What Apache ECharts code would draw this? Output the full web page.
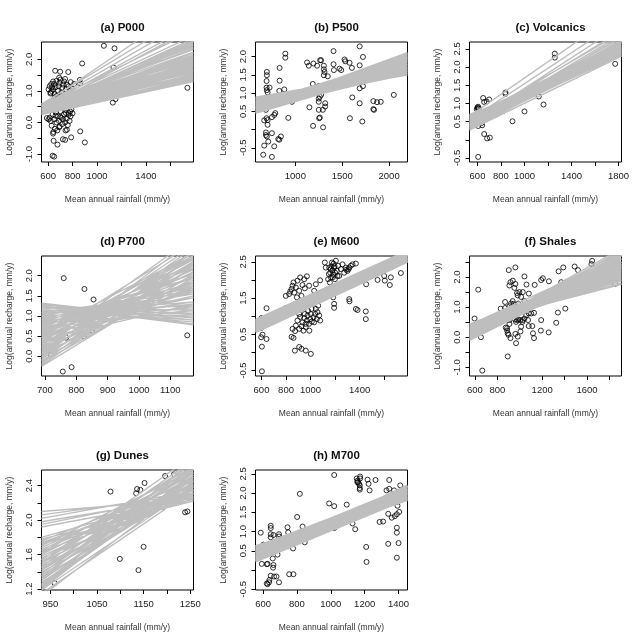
<!DOCTYPE html>
<html><head><meta charset="utf-8">
<script src="https://cdn.jsdelivr.net/npm/echarts@6/dist/echarts.min.js"></script>
<style>html,body{margin:0;padding:0;background:#fff}#c{width:642px;height:642px}</style>
</head><body><div id="c"></div>
<script>
const titles = ['(a) P000','(b) P500','(c) Volcanics','(d) P700','(e) M600','(f) Shales','(g) Dunes','(h) M700'];
const xAxisTitle = 'Mean annual rainfall (mm/y)';
const yAxisTitle = 'Log(annual recharge, mm/y)';

// ---- scatter points [rainfall, log recharge] ----
const pointsP000 = [[1056,2.43],[1143,2.35],[1135,1.74],[1151,0.74],[1129,0.63],[1740,1.1],[878,1.87],[859,1.35],[862,1.24],[764,1.6],[698,1.61],[657,1.64],[813,1.22],[799,0.29],[766,0.24],[862,-0.28],[900,-0.63],[788,-0.47],[676,-0.7],[644,-0.58],[720,-0.53],[739,-0.55],[636,-1.05],[649,-1.08],[742,-0.25],[753,-0.23],[589,0.14],
[640,1.05],[648,1.22],[655,0.9],[660,1.12],[668,1.32],[672,0.85],[680,1.0],[686,1.15],[692,1.26],[700,1.36],[708,0.95],[715,1.1],[722,1.2],[730,1.3],[738,1.38],[745,1.05],[752,1.2],[760,0.9],[768,1.15],[776,1.02],[784,1.28],[790,1.08],[620,0.95],[632,1.12],[640,1.3],[652,0.8],[664,0.78],[705,0.86],[628,1.0],[690,1.42],[603,1.05],[612,1.15],[618,0.92],[625,1.22],
[612,0.15],[620,0.05],[628,-0.1],[636,0.25],[642,-0.3],[648,0.1],[655,-0.2],[662,0.32],[668,0.0],[674,-0.25],[680,0.2],[688,0.05],[694,-0.12],[700,0.36],[708,0.15],[715,-0.05],[722,0.1],[730,0.26],[738,0.0],[745,0.4],[752,0.12],[760,-0.08],[768,0.3],[775,0.05],[783,0.2],[790,0.42],[603,0.1],[745,0.3],[700,0.18],[660,0.22],[780,0.35],[640,-0.35],[690,-0.15]];
const pointsP500 = [[1686,2.28],[1721,1.99],[1407,2.15],[893,2.08],[893,1.97],[832,1.69],[696,1.58],[696,1.49],[693,1.33],[693,1.15],[696,1.08],[704,1.02],[725,1.15],[832,1.34],[829,1.06],[882,1.1],[964,0.76],[1125,1.84],[1143,1.75],[1193,1.81],[1232,1.75],[1264,1.9],[1275,1.9],[1304,1.75],[1304,1.65],[1311,1.58],[1304,1.49],[1346,1.46],[1407,1.79],[1411,1.63],[1471,1.67],[1525,1.92],[1532,1.87],[1578,1.83],[1603,1.69],[1489,1.63],[1186,1.25],[1250,1.19],[1250,0.85],[1250,0.76],[1261,0.9],[1318,0.72],[1318,0.63],[1275,0.95],[1150,0.61],[1250,0.54],[1293,0.54],[1261,0.33],[1254,0.31],[1189,0.1],[1296,0.06],[1607,0.88],[1582,0.31],[1686,0.72],[1714,0.22],[1721,1.19],[1686,1.13],[1686,1.76],[1832,0.78],[1832,0.56],[1839,0.54],[1871,0.75],[1911,0.76],[2050,0.95],[925,0.32],[775,0.4],[786,0.45],[750,0.34],[668,0.25],[704,0.26],[693,0.31],[704,0.13],[686,-0.08],[696,-0.19],[686,-0.15],[750,-0.1],[711,-0.33],[668,-0.44],[775,-0.46],[829,-0.28],[846,-0.19],[818,-0.26],[657,-0.69],[750,-0.75],[686,0.54]];
const pointsVolcanics = [[600,0.89],[606,0.91],[611,0.86],[594,0.84],[603,0.87],[648,1.15],[657,1.04],[679,1.05],[699,1.11],[838,1.3],[838,1.26],[898,0.51],[1000,0.78],[1122,1.19],[1162,0.97],[1258,2.37],[1258,2.26],[1772,2.09],[606,0.38],[640,0.4],[634,0.46],[657,0.16],[682,0.04],[705,0.06],[606,-0.47]];
const pointsP700 = [[760,1.94],[826,1.67],[855,1.41],[719,0.04],[757,-0.38],[785,-0.27],[824,0.5],[850,0.64],[981,1.11],[1154,0.52],[768,0.46]];
const pointsM600 = [[603,-0.52],[603,0.16],[597,0.42],[608,0.49],[595,0.67],[600,0.95],[641,0.37],[641,1.22],[798,1.22],
[845,0.43],[861,0.4],[872,0.05],[907,0.15],[926,0.1],[961,0.05],[1002,-0.04],
[853,0.65],[874,0.59],[880,0.74],[893,0.88],[907,0.65],[926,0.72],[934,0.83],[942,0.6],[948,0.95],[953,1.06],[961,0.79],[970,0.88],[975,1.02],[980,1.15],[988,0.79],[997,0.92],[1002,1.06],[1008,1.2],[1016,1.34],[1024,0.97],[1029,0.83],[1037,1.06],[1043,1.2],[1051,0.92],[1056,1.11],[1062,1.29],[1070,1.02],[1078,0.88],[942,1.38],[926,1.24],[907,1.06],[893,1.2],[915,0.98],[960,0.7],[990,0.6],[1010,0.85],
[798,1.56],[825,1.61],[845,1.75],[861,1.93],[880,1.79],[893,1.98],[915,2.07],[934,1.86],[948,2.02],[970,2.1],[866,1.65],[907,1.7],[926,1.56],[953,1.77],[988,1.84],[853,1.84],[834,1.68],[888,1.52],[1029,1.7],[1078,1.99],[1043,1.88],
[1152,2.34],[1160,2.2],[1165,2.07],[1171,2.38],[1179,2.26],[1184,2.14],[1192,2.34],[1198,2.02],[1206,2.53],[1214,2.25],[1225,2.39],[1233,2.11],[1247,2.3],[1260,2.43],[1274,2.2],[1287,2.34],[1301,2.25],[1315,2.34],[1328,2.39],[1342,2.43],[1143,2.02],[1157,1.93],[1149,2.16],[1174,2.48],[1187,2.45],[1200,2.2],[1219,2.11],[1165,2.3],[1181,2.07],[1195,2.38],[1369,2.45],[1116,2.48],[1124,2.34],[1290,2.28],[1310,2.3],
[1152,1.56],[1184,1.52],[1192,1.34],[1192,1.23],[1315,1.47],[1317,1.41],[1369,1.2],[1383,1.17],[1450,1.13],[1450,0.92],
[1453,1.88],[1410,2.11],[1423,2.02],[1546,2.0],[1600,2.3],[1600,2.11],[1605,1.98],[1646,1.86],[1654,2.07],[1660,2.36],[1654,2.42],[1736,2.19],[1513,2.25]];
const pointsShales = [[597,0.62],[630,1.58],[654,0.0],[666,-1.11],[893,-0.64],[902,2.23],[961,2.32],
[908,1.72],[917,1.83],[938,1.88],[961,1.77],[952,1.64],[976,1.47],[982,1.39],[997,1.5],[1012,1.34],[1027,1.5],[1042,2.02],[1060,1.75],[1081,1.45],[1102,1.03],[1133,1.74],[1191,1.9],[1206,1.96],[1191,0.57],[1188,0.22],[1127,-0.03],[1118,0.13],[1112,0.37],[1080,0.37],[1074,0.57],[1080,0.79],[1057,0.73],[1042,0.62],[1027,0.57],[1024,0.51],[1006,0.57],[988,0.59],[976,0.57],[967,0.51],[958,0.59],[952,0.79],[946,1.1],[937,1.2],[922,1.12],[908,1.03],[917,0.9],[908,0.57],[908,0.44],[887,0.3],[893,0.13],[899,0.08],[887,0.22],[917,-0.03],[961,0.11],[982,0.02],[1006,0.19],[967,-0.2],[1012,0.35],[875,0.32],[869,0.97],[869,1.17],[830,0.95],[857,0.79],[946,1.0],[988,1.12],[1042,1.2],[1080,1.12],[1102,0.79],[1127,0.81],[1048,0.9],
[1260,1.86],[1340,0.82],[1325,0.48],[1258,0.16],[1406,0.95],[1346,2.19],[1388,2.32],[1370,1.83],[1489,2.35],[1519,2.23],[1645,2.54],[1639,2.43],[1849,1.77]];
const pointsDunes = [[959,1.27],[1079,2.33],[1099,1.55],[1134,2.31],[1136,2.36],[1143,2.35],[1150,1.69],[1139,1.42],[1152,2.43],[1196,2.51],[1239,2.09],[1244,2.1],[1215,2.53]];
const pointsM700 = [[586,0.97],[592,0.16],[622,0.15],[626,0.16],[635,-0.32],[626,-0.37],[622,-0.35],[637,-0.26],[645,-0.15],[665,-0.17],[679,-0.17],[694,-0.32],[661,0.13],[659,0.06],[657,0.3],[645,1.15],[645,1.09],[645,0.93],[645,0.85],[661,0.91],[694,0.93],[694,0.87],[685,0.4],[744,1.11],[748,0.98],[754,-0.11],[779,-0.11],[777,0.56],[801,1.38],[817,1.98],[833,1.13],[846,0.72],[602,0.66],
[990,1.73],[1020,1.66],[1020,2.47],[1094,1.7],[1020,1.09],[960,1.04],[1128,1.21],[1144,1.06],
[1153,2.38],[1157,2.32],[1161,2.28],[1167,2.24],[1171,2.2],[1171,2.13],[1171,2.09],[1173,2.43],[1173,2.38],[1157,2.28],
[1217,2.35],[1223,2.24],[1229,2.07],[1264,2.34],[1209,0.6],[1211,0.21],
[1288,1.25],[1309,1.26],[1329,2.07],[1345,2.34],[1345,2.11],[1339,1.46],[1339,0.68],[1360,1.36],[1378,1.4],[1390,1.45],[1394,1.67],[1390,1.77],[1390,1.1],[1390,0.97],[1390,0.32],[1400,0.7],[1404,1.51],[1410,2.2],[1423,1.96],[1374,2.07]];

// ---- fitted regression lines: [value at left edge, value at right edge] ----
const linesP000 = [[0.25,1.3],[0.27,1.37],[0.29,1.41],[0.31,1.49],[0.33,1.54],[0.35,1.61],[0.37,1.65],[0.39,1.73],[0.41,1.77],[0.43,1.85],[0.45,1.9],[0.47,1.97],[0.49,2.01],[0.51,2.09],[0.53,2.14],[0.55,2.23],[0.57,2.31],[0.59,2.4],
[0.26,1.62],[0.3,1.52],[0.34,1.7],[0.38,1.45],[0.42,1.81],[0.46,1.58],[0.5,1.88],[0.54,1.68],[0.58,1.98],[0.28,1.4],[0.32,1.75],[0.36,1.5],[0.4,1.92],[0.44,1.65],[0.48,2.05],[0.52,1.78],[0.56,2.12],[0.6,1.85],
[0.35,2.45],[0.4,2.55],[0.45,2.66],[0.5,2.75],[0.55,2.9],[0.42,3.0],[0.48,3.1],[0.52,3.3],[0.58,3.5],[0.38,2.5],[0.46,2.6],[0.54,3.8],
[0.3,1.33],[0.35,1.38],[0.4,1.44],[0.33,1.8],[0.45,2.2],[0.5,2.35],[0.38,2.1],[0.27,1.95]];
const linesP500 = [[0.45,1.68],[0.46,1.9],[0.48,2.08],[0.5,1.62],[0.51,1.8],[0.53,1.98],[0.55,1.56],[0.56,1.75],[0.57,2.0],[0.58,2.1],[0.6,1.62],[0.61,1.85],[0.62,1.95],[0.64,1.52],[0.65,1.7],[0.66,1.88],[0.68,2.02],[0.7,1.55],[0.71,1.66],[0.72,1.8],[0.74,1.93],[0.75,1.53],[0.76,1.62],[0.78,1.76],[0.8,1.5],[0.81,1.6],[0.83,1.7],[0.85,1.52],[0.86,1.62],[0.88,1.6],[0.52,1.7],[0.59,1.72],[0.67,1.6],[0.73,1.7],[0.63,1.78],[0.49,1.86],[0.69,1.75],[0.79,1.66],[0.54,1.9],[0.6,2.05]];
const linesVolcanics = [[0.27,2.3],[0.29,2.45],[0.3,2.6],[0.32,2.38],[0.33,2.52],[0.35,2.7],[0.36,2.42],[0.38,2.58],[0.39,2.33],[0.41,2.75],[0.42,2.48],[0.44,2.62],[0.45,2.36],[0.47,2.55],[0.48,2.8],[0.5,2.44],[0.51,2.66],[0.52,2.32],[0.54,2.5],[0.55,2.72],[0.57,2.4],[0.58,2.6],[0.6,2.34],[0.61,2.52],[0.63,2.45],[0.64,2.68],[0.66,2.38],[0.68,2.5],[0.7,2.3],[0.4,2.9],[0.46,3.0],[0.53,2.95],[0.34,2.85],[0.43,3.15],[0.65,3.55],[0.55,3.3],[0.59,2.42],[0.37,2.5],[0.49,2.35],[0.62,2.62]];
const linesP700 = [[-0.25,2.05],[-0.22,2.35],[-0.18,2.6],[-0.15,1.95],[-0.12,2.2],[-0.08,2.5],[-0.05,1.85],[-0.02,2.3],[0.0,2.7],[0.03,2.0],[0.06,2.45],[0.08,1.75],[0.1,2.2],[0.12,2.6],[0.15,1.9],[0.17,2.35],[0.2,2.75],[0.22,1.7],[0.24,2.1],[0.27,2.5],[0.3,1.85],[0.32,2.25],[0.35,2.6],[0.37,1.65],[0.4,2.0],[0.42,2.4],[0.45,1.8],[0.47,2.15],[0.5,2.5],[0.52,1.6],[0.55,1.95],[0.57,2.3],[0.6,1.7],[0.62,2.05],[0.65,1.5],[0.67,1.85],[0.7,2.2],[0.72,1.45],[0.75,1.75],[0.77,2.05],[0.8,1.35],[0.82,1.65],[0.85,1.95],[0.87,1.3],[0.9,1.55],[0.92,1.8],[0.95,1.2],[0.97,1.45],[1.0,1.7],[1.02,1.1],[1.05,1.35],[1.08,1.6],[1.1,1.0],[1.12,1.25],[1.15,0.9],[1.18,1.15],[1.2,0.85],[1.23,1.05],[1.26,0.78],[1.28,0.95],[1.3,0.8],[1.32,0.9],[0.05,2.9],[0.25,2.95],[0.45,2.8],[0.6,2.55],[0.4,1.3],[0.55,1.25],[0.7,1.15],[0.85,1.05]];
const linesM600 = [[0.56,2.5],[0.58,2.56],[0.59,2.62],[0.61,2.52],[0.62,2.58],[0.64,2.66],[0.65,2.54],[0.67,2.6],[0.68,2.7],[0.7,2.56],[0.71,2.64],[0.73,2.72],[0.74,2.58],[0.76,2.66],[0.77,2.76],[0.79,2.62],[0.8,2.7],[0.82,2.78],[0.83,2.64],[0.85,2.72],[0.86,2.8],[0.88,2.68],[0.9,2.8],[0.6,2.7],[0.72,2.5],[0.87,2.6],[0.66,2.74],[0.78,2.54]];
const linesShales = [[-0.1,2.4],[-0.08,2.65],[-0.06,2.9],[-0.04,2.3],[-0.02,2.55],[0.0,2.8],[0.02,2.25],[0.04,2.45],[0.06,2.7],[0.08,2.15],[0.1,2.38],[0.12,2.6],[0.14,2.85],[0.16,2.05],[0.18,2.3],[0.2,2.5],[0.22,2.75],[0.24,1.95],[0.26,2.2],[0.28,2.42],[0.3,2.65],[0.32,1.88],[0.34,2.1],[0.36,2.32],[0.38,2.55],[0.4,1.8],[0.42,2.0],[0.44,2.25],[0.45,1.76],[0.43,2.45],[0.35,1.9],[0.25,2.6],[0.15,2.5],[0.05,2.35],[-0.05,2.5],[0.0,2.6],[0.3,2.0],[0.2,2.1],[0.1,2.2],[0.38,2.2],[0.27,2.3],[0.12,2.95],[0.41,2.7]];
const linesDunes = [[1.19,2.38],[1.2,2.55],[1.22,2.7],[1.24,2.45],[1.26,2.62],[1.28,2.4],[1.3,2.52],[1.32,2.68],[1.34,2.36],[1.36,2.48],[1.38,2.6],[1.4,2.32],[1.42,2.44],[1.44,2.56],[1.46,2.7],[1.48,2.3],[1.5,2.42],[1.52,2.54],[1.54,2.65],[1.56,2.28],[1.58,2.4],[1.6,2.5],[1.62,2.62],[1.64,2.26],[1.66,2.36],[1.68,2.48],[1.7,2.58],[1.72,2.24],[1.74,2.34],[1.76,2.45],[1.78,2.22],[1.8,2.3],[1.25,2.5],[1.35,2.58],[1.45,2.38],[1.55,2.46],[1.65,2.55],[1.32,2.44],[1.42,2.62],[1.52,2.34],[1.62,2.4],[1.72,2.4],[1.92,2.25],[1.95,2.3],[1.98,2.27],[2.02,2.34],[2.06,2.3],[2.1,2.24],[1.22,2.48],[1.5,2.75],[1.15,2.35],[1.12,2.45]];
const linesM700 = [[0.22,1.85],[0.24,1.95],[0.26,2.05],[0.28,1.9],[0.3,2.0],[0.32,2.1],[0.34,1.88],[0.36,1.98],[0.38,2.08],[0.4,2.18],[0.42,1.92],[0.44,2.02],[0.46,2.12],[0.48,1.86],[0.5,1.96],[0.52,2.06],[0.54,2.16],[0.56,1.9],[0.58,2.0],[0.6,2.1],[0.62,1.84],[0.45,1.82],[0.25,2.15],[0.35,2.2],[0.55,1.82],[0.6,1.95]];

// ---- axis ranges, ticks and tick labels ----
const xRanges = [[545,1790],[575,2196],[532,1826],[689,1174],[551,1790],[552,1907],[931,1257],[555,1453]];
const yRanges = [[-1.25,2.55],[-0.89,2.4],[-0.61,2.69],[-0.49,2.49],[-0.65,2.66],[-1.29,2.7],[1.19,2.58],[-0.52,2.6]];
const xTicks = [[600,800,1000,1200,1400,1600],[1000,1500,2000],[600,800,1000,1200,1400,1600,1800],[700,800,900,1000,1100],[600,800,1000,1200,1400,1600],[600,800,1000,1200,1400,1600,1800],[950,1000,1050,1100,1150,1200,1250],[600,800,1000,1200,1400]];
const xLabels = [[600,800,1000,1400],[1000,1500,2000],[600,800,1000,1400,1800],[700,800,900,1000,1100],[600,800,1000,1400],[600,800,1200,1600],[950,1050,1150,1250],[600,800,1000,1200,1400]];
const yTicks = [[-1,-0.5,0,0.5,1,1.5,2],[-0.5,0,0.5,1,1.5,2],[-0.5,0,0.5,1,1.5,2,2.5],[0,0.5,1,1.5,2],[-0.5,0,0.5,1,1.5,2,2.5],[-1,-0.5,0,0.5,1,1.5,2,2.5],[1.2,1.4,1.6,1.8,2.0,2.2,2.4],[-0.5,0,0.5,1,1.5,2,2.5]];
const yLabels = [[-1,0,1,2],[-0.5,0.5,1,1.5,2],[-0.5,0.5,1,1.5,2,2.5],[0,0.5,1,1.5,2],[-0.5,0.5,1.5,2.5],[-1,0,1,2],[1.2,1.6,2.0,2.4],[-0.5,0.5,1,1.5,2,2.5]];

const panelPoints = [pointsP000,pointsP500,pointsVolcanics,pointsP700,pointsM600,pointsShales,pointsDunes,pointsM700];
const panelLines = [linesP000,linesP500,linesVolcanics,linesP700,linesM600,linesShales,linesDunes,linesM700];
const lineWidths = [1.4,1.8,1.4,1.3,2.2,1.5,1.4,2.2];

const FONT = 'Liberation Sans, Arial, sans-serif';
const option = {animation:false, backgroundColor:'#fff', title:[], grid:[], xAxis:[], yAxis:[], series:[]};
titles.forEach((t,i)=>{
  const col=i%3, row=Math.floor(i/3);
  const left=41.5+214*col, top=42+214*row, w=152, h=120;
  option.grid.push({left:left, top:top, width:w, height:h, show:true, borderColor:'#000', borderWidth:1, backgroundColor:'transparent'});
  option.title.push({text:t, left:left+w/2, top:top-25, textAlign:'center',
    textStyle:{fontFamily:FONT, fontWeight:'bold', fontSize:11.5, color:'#111'}});
  option.xAxis.push({type:'value', gridIndex:i, position:'bottom', min:xRanges[i][0], max:xRanges[i][1],
    axisLine:{show:false, onZero:false}, splitLine:{show:false},
    axisTick:{show:true, inside:false, length:4, customValues:xTicks[i], lineStyle:{color:'#000', width:1}},
    axisLabel:{customValues:xLabels[i], margin:9, fontSize:9.5, color:'#222', fontFamily:FONT, formatter:v=>String(v)},
    name:xAxisTitle, nameLocation:'middle', nameGap:33,
    nameTextStyle:{fontSize:8.5, color:'#333', fontFamily:FONT}});
  option.yAxis.push({type:'value', gridIndex:i, position:'left', min:yRanges[i][0], max:yRanges[i][1],
    axisLine:{show:false, onZero:false}, splitLine:{show:false},
    axisTick:{show:true, inside:false, length:4, customValues:yTicks[i], lineStyle:{color:'#000', width:1}},
    axisLabel:{customValues:yLabels[i], rotate:90, margin:7, fontSize:9.5, color:'#222', fontFamily:FONT, formatter:v=>Number(v).toFixed(1)},
    name:yAxisTitle, nameLocation:'middle', nameGap:27, nameRotate:90,
    nameTextStyle:{fontSize:8.5, color:'#333', fontFamily:FONT}});
  option.series.push({type:'scatter', xAxisIndex:i, yAxisIndex:i, data:panelPoints[i], symbol:'circle', symbolSize:5,
    itemStyle:{color:'rgba(0,0,0,0)', borderColor:'#000', borderWidth:1}, z:2, silent:true});
  const d=[];
  panelLines[i].forEach(p=>{ d.push([xRanges[i][0], p[0]], [xRanges[i][1], p[1]], [xRanges[i][1], '-']); });
  option.series.push({type:'line', xAxisIndex:i, yAxisIndex:i, data:d, showSymbol:false, symbol:'none', connectNulls:false, clip:true,
    lineStyle:{color:'#bebebe', width:lineWidths[i]}, z:3, silent:true});
});
const chart = echarts.init(document.getElementById('c'), null, {renderer:'canvas'});
chart.setOption(option);
</script></body></html>
